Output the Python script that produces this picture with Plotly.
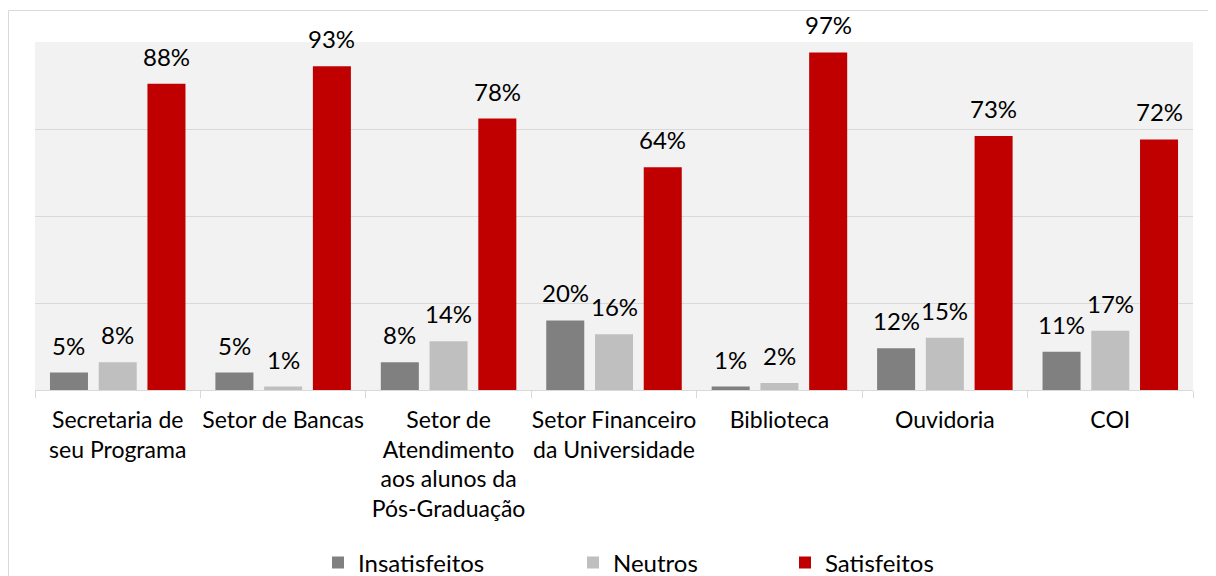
import plotly.graph_objects as go

categories = [
    "Secretaria de<br>seu Programa",
    "Setor de Bancas",
    "Setor de<br>Atendimento<br>aos alunos da<br>Pós-Graduação",
    "Setor Financeiro<br>da Universidade",
    "Biblioteca",
    "Ouvidoria",
    "COI",
]
series_names = ["Insatisfeitos", "Neutros", "Satisfeitos"]
insatisfeitos = [5, 5, 8, 20, 1, 12, 11]
neutros = [8, 1, 14, 16, 2, 15, 17]
satisfeitos = [88, 93, 78, 64, 97, 73, 72]

colors = ["#808080", "#bfbfbf", "#c00000"]
FONT = "Lato"

# page body has an 8px margin; figure sized to fit the window
OFF = 8
W, H = 1216 - OFF, 576 - OFF
L, T = 35 - OFF, 42 - OFF
PW, PH = 1158, 348
R = W - L - PW
B = H - T - PH
BARGAP, GROUPGAP = 0.116, 0.22

series = [insatisfeitos, neutros, satisfeitos]
legend_ids = ["legend", "legend2", "legend3"]

fig = go.Figure()
for name, vals, col, lg in zip(series_names, series, colors, legend_ids):
    fig.add_trace(go.Bar(
        x=categories, y=vals, name=name, legend=lg,
        marker=dict(color=col, line=dict(width=0)),
        hovertemplate="%{y}%<extra>" + name + "</extra>",
    ))

# value labels above each bar (shifted into each bar's slot of the group)
slot_px = PW / len(categories) * (1 - BARGAP) / len(series)
annotations = []
for j, vals in enumerate(series):
    for cat, v in zip(categories, vals):
        annotations.append(dict(
            x=cat, y=v, xref="x", yref="y", text=f"{v}%", showarrow=False,
            xshift=(j - (len(series) - 1) / 2) * slot_px, yshift=11,
            yanchor="bottom", xanchor="center",
            font=dict(family=FONT, size=24, color="#000000"),
        ))

def sx(p):  # screen x pixel -> paper x
    return (p - OFF - L) / PW

def sy(p):  # screen y pixel -> paper y
    return (T + PH - (p - OFF)) / PH

leg_common = dict(orientation="h", yanchor="middle", xanchor="left",
                  y=sy(563), font=dict(family=FONT, size=24, color="#000000"),
                  bgcolor="rgba(0,0,0,0)", itemwidth=30)

fig.update_layout(
    width=W, height=H,
    margin=dict(l=L, r=R, t=T, b=B, autoexpand=False),
    paper_bgcolor="white",
    plot_bgcolor="#f2f2f2",
    barmode="group",
    bargap=BARGAP,
    bargroupgap=GROUPGAP,
    showlegend=True,
    legend=dict(leg_common, x=sx(318)),
    legend2=dict(leg_common, x=sx(573)),
    legend3=dict(leg_common, x=sx(785)),
    annotations=annotations,
    xaxis=dict(
        showline=True, linecolor="#d9d9d9", linewidth=1,
        ticks="outside", tickson="boundaries", ticklen=7, tickcolor="#d9d9d9",
        tickfont=dict(family=FONT, size=23, color="#000000"),
        ticklabelstandoff=9,
        tickangle=0, showgrid=False,
    ),
    yaxis=dict(
        range=[0, 100], dtick=25, showticklabels=False,
        gridcolor="#d9d9d9", gridwidth=1, zeroline=False, showline=False,
    ),
    shapes=[dict(type="rect", xref="paper", yref="paper",
                 x0=sx(8.5), x1=sx(1240), y0=sy(600), y1=sy(10.5),
                 line=dict(color="#d9d9d9", width=1), fillcolor="rgba(0,0,0,0)", layer="below")],
)

fig.write_html("out.html")
